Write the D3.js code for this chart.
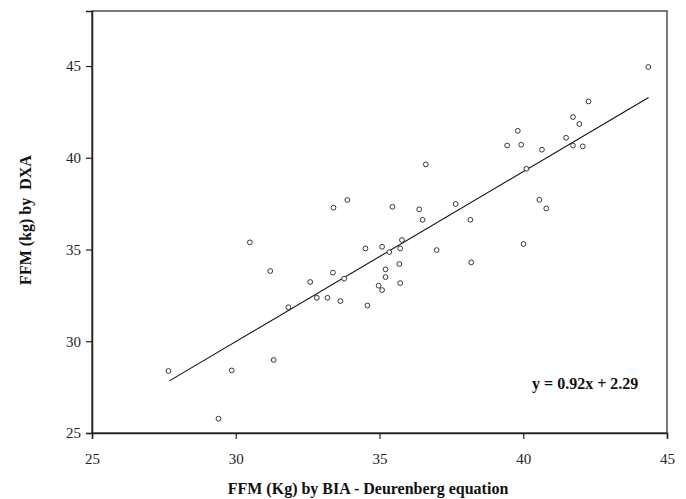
<!DOCTYPE html>
<html>
<head>
<meta charset="utf-8">
<script src="https://cdn.jsdelivr.net/npm/d3@7"></script>
<style>
  body { margin: 0; background: #fff; }
  text { font-family: "Liberation Serif", "Times New Roman", serif; }
</style>
</head>
<body>
<script>
// FFM by BIA (x) vs FFM by DXA (y)
var biaValues = [27.66, 29.40, 29.86, 30.49, 31.20, 31.32, 31.83, 32.59, 32.82, 33.19,
                 33.38, 33.40, 33.64, 33.77, 33.88, 34.51, 34.58, 34.97, 35.09, 35.09,
                 35.21, 35.21, 35.34, 35.45, 35.69, 35.72, 35.72, 35.78, 36.38, 36.50,
                 36.61, 36.99, 37.65, 38.16, 38.19, 39.44, 39.81, 39.93, 40.01, 40.11,
                 40.56, 40.65, 40.80, 41.49, 41.73, 41.73, 41.95, 42.07, 42.27, 44.35];
var dxaValues = [28.38, 25.78, 28.41, 35.39, 33.83, 28.98, 31.85, 33.23, 32.37, 32.37,
                 33.74, 37.28, 32.19, 33.41, 37.70, 35.06, 31.95, 33.03, 32.79, 35.15,
                 33.92, 33.50, 34.86, 37.33, 34.21, 35.06, 33.17, 35.52, 37.19, 36.62,
                 39.64, 34.97, 37.48, 36.62, 34.30, 40.67, 41.47, 40.71, 35.30, 39.40,
                 37.71, 40.44, 37.24, 41.09, 42.22, 40.67, 41.84, 40.62, 43.07, 44.95];
// fitted line as drawn (end points)
var fitX = [27.69, 44.36];
var fitY = [27.84, 43.29];
var xTicks = [25, 30, 35, 40, 45];
var yTicks = [25, 30, 35, 40, 45];
var equationText = "y = 0.92x + 2.29";
var xTitle = "FFM (Kg) by BIA - Deurenberg equation";
var yTitle = "FFM (kg) by  DXA";

var width = 686, height = 499;
var margin = {top: 11, right: 19, bottom: 66, left: 92};
var innerW = width - margin.left - margin.right;
var innerH = height - margin.top - margin.bottom;

var svg = d3.select("body").append("svg")
    .attr("width", width)
    .attr("height", height);

var g = svg.append("g")
    .attr("transform", "translate(" + margin.left + "," + margin.top + ")");

var x = d3.scaleLinear().domain([25, 45]).range([0, innerW]);
var y = d3.scaleLinear().domain([25, 48]).range([innerH, 0]);

// frame
g.append("rect")
    .attr("x", 0).attr("y", 0)
    .attr("width", innerW).attr("height", innerH)
    .attr("fill", "none")
    .attr("stroke", "#333")
    .attr("stroke-width", 1.3);

var xAxis = g.append("g")
    .attr("transform", "translate(0," + innerH + ")")
    .call(d3.axisBottom(x).tickValues(xTicks).tickSize(6).tickPadding(14));
var yAxis = g.append("g")
    .call(d3.axisLeft(y).tickValues(yTicks).tickSize(6).tickPadding(5));

[xAxis, yAxis].forEach(function(a) {
    a.select(".domain").attr("stroke", "#222").attr("stroke-width", 1.5);
    a.selectAll(".tick line").attr("stroke", "#222").attr("stroke-width", 1.2);
    a.selectAll(".tick text")
        .attr("fill", "#222")
        .style("font-family", "'Liberation Serif', serif")
        .style("font-size", "15px");
});

// regression line
g.append("line")
    .attr("x1", x(fitX[0])).attr("y1", y(fitY[0]))
    .attr("x2", x(fitX[1])).attr("y2", y(fitY[1]))
    .attr("stroke", "#111")
    .attr("stroke-width", 1.1);

// points
var pts = biaValues.map(function(v, i) { return {x: v, y: dxaValues[i]}; });
g.selectAll("circle.pt")
    .data(pts)
    .enter()
    .append("circle")
    .attr("class", "pt")
    .attr("cx", function(d) { return x(d.x); })
    .attr("cy", function(d) { return y(d.y); })
    .attr("r", 2.4)
    .attr("fill", "#fff")
    .attr("stroke", "#222")
    .attr("stroke-width", 0.9);

// equation
g.append("text")
    .attr("x", x(44.0))
    .attr("y", y(27.4))
    .attr("text-anchor", "end")
    .style("font-size", "16px")
    .style("font-weight", "bold")
    .attr("fill", "#111")
    .text(equationText);

// axis titles
svg.append("text")
    .attr("x", 368)
    .attr("y", 494)
    .attr("text-anchor", "middle")
    .style("font-size", "16px")
    .style("font-weight", "bold")
    .attr("fill", "#111")
    .text(xTitle);

svg.append("text")
    .attr("transform", "translate(31," + 220 + ") rotate(-90)")
    .attr("text-anchor", "middle")
    .style("font-size", "16px")
    .style("font-weight", "bold")
    .attr("xml:space", "preserve")
    .attr("fill", "#111")
    .text(yTitle);
</script>
</body>
</html>
